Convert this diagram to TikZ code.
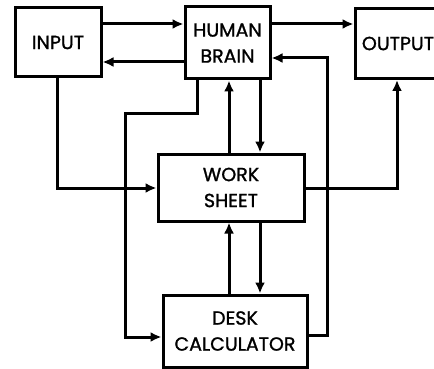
\documentclass[tikz,border=0pt]{standalone}
\usepackage{fontspec}
\setmainfont{Poppins}
\usetikzlibrary{arrows.meta}

\begin{document}
\begin{tikzpicture}[x=1pt,y=-1pt,
        >={Latex[length=11pt,width=10pt]},
        block/.style={draw,line width=3pt,align=center,font=\fontsize{19}{26}\selectfont\addfontfeatures{FakeBold=1.2},inner sep=0pt},
        link/.style={line width=3pt,->}]
        \path[use as bounding box,clip] (0,0) rectangle (434,369);
        \node[block,minimum width=86pt,minimum height=69pt] (input) at (58,42.5) {INPUT};
        \node[block,minimum width=85pt,minimum height=72pt] (brain) at (227.5,43) {HUMAN\\BRAIN};
        \node[block,minimum width=86pt,minimum height=70pt] (output) at (398,43.5) {OUTPUT};
        \node[block,minimum width=146pt,minimum height=67pt] (sheet) at (231,187.5) {WORK\\SHEET};
        \node[block,minimum width=144pt,minimum height=72pt] (calc) at (235,331) {DESK\\CALCULATOR};
        % top row
        \draw[link] (input.east |- 0,24) -- (brain.west |- 0,24);
        \draw[link] (brain.west |- 0,62) -- (input.east |- 0,62);
        \draw[link] (brain.east |- 0,24) -- (output.west |- 0,24);
        % brain and work sheet
        \draw[link] (sheet.north -| 229,0) -- (brain.south -| 229,0);
        \draw[link] (brain.south -| 260,0) -- (sheet.north -| 260,0);
        % work sheet and calculator
        \draw[link] (calc.north -| 229,0) -- (sheet.south -| 229,0);
        \draw[link] (sheet.south -| 260,0) -- (calc.north -| 260,0);
        % side loops
        \draw[link] (input.south -| 57,0) |- (sheet.west |- 0,188);
        \draw[link] (sheet.east |- 0,188) -| (output.south -| 397,0);
        \draw[link] (brain.south -| 197,0) |- (125,113) |- (calc.west |- 0,337);
        \draw[link] (calc.east |- 0,335) -| (327,58) -- (brain.east |- 0,58);
    \end{tikzpicture}
\end{document}
